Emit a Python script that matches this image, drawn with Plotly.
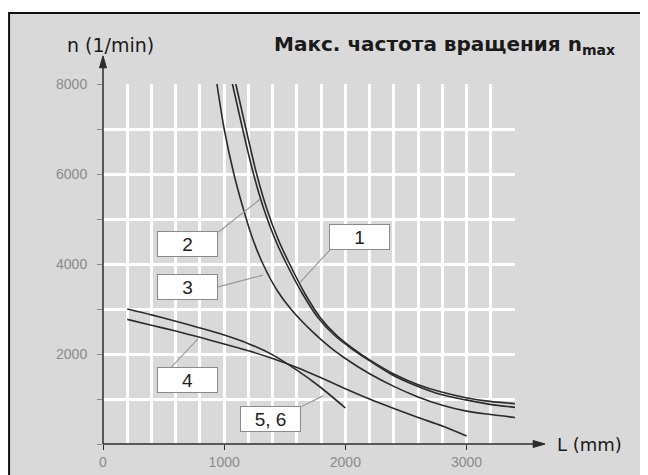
import plotly.graph_objects as go

# curves: L in mm, n in 1/min
L_1 = [1096, 1180, 1268, 1355, 1445, 1540, 1666, 1789, 1927, 2064, 2197, 2395, 2596, 2794, 2995, 3193, 3400]
n_1 = [8000, 7000, 6000, 5200, 4550, 4000, 3345, 2824, 2416, 2120, 1875, 1563, 1325, 1154, 1029, 947, 895]

L_2 = [1068, 1152, 1242, 1330, 1420, 1515, 1645, 1770, 1910, 2050, 2185, 2385, 2590, 2790, 2995, 3193, 3400]
n_2 = [8000, 7000, 6000, 5200, 4550, 4000, 3345, 2824, 2416, 2120, 1875, 1540, 1290, 1100, 980, 880, 815]

L_3 = [940, 1000, 1080, 1150, 1230, 1320, 1440, 1550, 1730, 1870, 2000, 2200, 2400, 2600, 2800, 3000, 3200, 3400]
n_3 = [8000, 7000, 6000, 5300, 4600, 4000, 3400, 3000, 2490, 2160, 1900, 1560, 1280, 1045, 860, 730, 655, 590]

L_4 = [200, 400, 600, 800, 1000, 1200, 1400, 1600, 1800, 2000, 2200, 2400, 2600, 2800, 3000]
n_4 = [2770, 2640, 2510, 2370, 2220, 2070, 1900, 1700, 1470, 1230, 1000, 790, 590, 400, 180]

L_56 = [200, 400, 600, 800, 1000, 1200, 1400, 1600, 1800, 2000]
n_56 = [3000, 2870, 2730, 2580, 2420, 2230, 1980, 1640, 1250, 800]

# label boxes: text, box centre, leader start, leader end (data units)
labels = [
    ("2", (695, 4448), (951, 4704), (1296, 5439)),
    ("3", (695, 3492), (951, 3492), (1321, 3753)),
    ("1", (2120, 4595), (1872, 4310), (1628, 3597)),
    ("4", (698, 1414), (565, 1710), (785, 2343)),
    ("5, 6", (1383, 550), (1638, 835), (1817, 1069)),
]

x_ticks = [0, 1000, 2000, 3000]
y_ticks = [2000, 4000, 6000, 8000]

FONT = "Liberation Sans, Arial, sans-serif"
WIDE = "DejaVu Sans, sans-serif"
BG = "#d9d9d9"
INK = "#2b2b2b"

fig = go.Figure()
for xs, ys in [(L_1, n_1), (L_2, n_2), (L_3, n_3), (L_4, n_4), (L_56, n_56)]:
    fig.add_trace(go.Scatter(
        x=xs, y=ys, mode="lines",
        line=dict(color=INK, width=1.6, shape="spline", smoothing=0.8),
        showlegend=False, hoverinfo="skip"
    ))

# outer frame (page has an 8px body margin, figure is drawn 640x467)
fig.add_shape(type="rect", xref="paper", yref="paper",
              x0=-0.228, x1=1.40, y0=-0.3, y1=1.197,
              fillcolor=BG, line=dict(color="#111111", width=2), layer="below")

# axis lines with arrow heads
fig.add_shape(type="line", xref="paper", yref="paper", x0=0, x1=1.05, y0=0, y1=0,
              line=dict(color=INK, width=1.5))
fig.add_shape(type="line", xref="paper", yref="paper", x0=0, x1=0, y0=0, y1=1.05,
              line=dict(color=INK, width=1.5))
fig.add_shape(type="path", xref="paper", yref="paper",
              path="M 1.073 0 L 1.044 0.0097 L 1.044 -0.0097 Z",
              fillcolor=INK, line=dict(color=INK, width=1))
fig.add_shape(type="path", xref="paper", yref="paper",
              path="M 0 1.078 L 0.0085 1.045 L -0.0085 1.045 Z",
              fillcolor=INK, line=dict(color=INK, width=1))

# leader lines and boxes
for txt, c, p0, p1 in labels:
    fig.add_shape(type="line", x0=p0[0], y0=p0[1], x1=p1[0], y1=p1[1],
                  line=dict(color="#9a9a9a", width=1.2))
    fig.add_annotation(x=c[0], y=c[1], text=txt, showarrow=False,
                       width=57, height=22, bgcolor="white",
                       bordercolor="#8a8a8a", borderwidth=1, borderpad=1,
                       font=dict(family=FONT, size=19, color="#222222"))

# texts
fig.add_annotation(xref="paper", yref="paper", x=0.83, y=1.108,
                   xanchor="center", yanchor="middle",
                   text="Макс. частота вращения n<sub>max</sub>", showarrow=False,
                   font=dict(family=WIDE, size=20, color="#1a1a1a", weight="bold"))
fig.add_annotation(xref="paper", yref="paper", x=0.017, y=1.108,
                   xanchor="center", yanchor="middle",
                   text="n (1/min)", showarrow=False,
                   font=dict(family=WIDE, size=19, color="#1a1a1a"))
fig.add_annotation(xref="paper", yref="paper", x=1.097, y=0.0,
                   xanchor="left", yanchor="middle",
                   text="L (mm)", showarrow=False,
                   font=dict(family=WIDE, size=18, color="#1a1a1a"))

fig.update_xaxes(
    range=[0, 3400], tickmode="array", tickvals=x_ticks,
    ticks="outside", ticklen=5, tickcolor=INK, tickwidth=1,
    tickfont=dict(family=FONT, size=14, color="#8a8a8a"),
    showgrid=True, gridcolor="white", gridwidth=2.5,
    minor=dict(dtick=200, tick0=0, showgrid=True, gridcolor="white", gridwidth=2.5),
    zeroline=False, showline=False, automargin=False
)
fig.update_yaxes(
    range=[0, 8000], tickmode="array", tickvals=y_ticks,
    ticks="outside", ticklen=5, tickcolor="#8a8a8a", tickwidth=1,
    ticklabelstandoff=7,
    tickfont=dict(family=FONT, size=14, color="#8a8a8a"),
    showgrid=True, gridcolor="white", gridwidth=2.5,
    minor=dict(dtick=1000, tick0=0, ticks="outside", ticklen=5, tickcolor="#8a8a8a",
               showgrid=True, gridcolor="white", gridwidth=2.5),
    zeroline=False, showline=False, automargin=False
)

fig.update_layout(
    width=640, height=467,
    margin=dict(l=95, r=133, t=76, b=31),
    paper_bgcolor="white", plot_bgcolor="rgba(0,0,0,0)",
    font=dict(family=FONT),
    showlegend=False
)

fig.write_html("out.html")
